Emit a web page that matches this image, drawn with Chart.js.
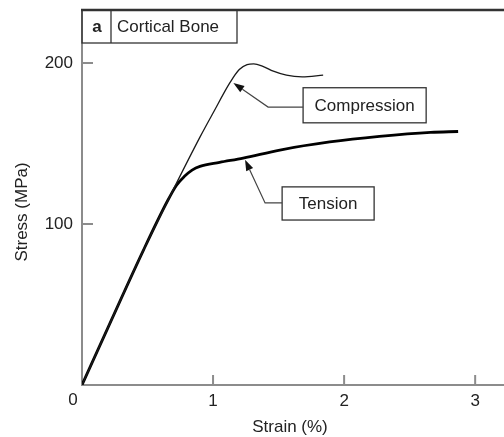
<!DOCTYPE html>
<html>
<head>
<meta charset="utf-8">
<script src="https://cdn.jsdelivr.net/npm/chart.js@4"></script>
<style>
  html, body { margin: 0; padding: 0; background: #fff; }
  #wrap { width: 504px; height: 437px; }
</style>
</head>
<body>
<div id="wrap"><canvas id="chart"></canvas></div>
<script>
// values (strain in %, stress in MPa)
const compStrain = [0, 0.2, 0.47, 0.7, 0.9, 1.0, 1.13, 1.2, 1.26, 1.31, 1.38, 1.46, 1.56, 1.68, 1.84];
const compStress = [0, 36, 84, 122, 154, 169, 188, 196, 199, 199.5, 198, 195, 192.5, 191.5, 192.5];
const tensStrain = [0, 0.2, 0.47, 0.65, 0.72, 0.78, 0.84, 0.9, 1.05, 1.23, 1.51, 1.89, 2.27, 2.66, 2.87];
const tensStress = [0, 36, 84, 114, 124, 129.5, 133.5, 135.8, 138.3, 141, 146, 151, 154.5, 157, 157.5];
const xTicks = [1, 2, 3];
const yTicks = [100, 200];
const xLabel = 'Strain (%)';
const yLabel = 'Stress (MPa)';
const panelLetter = 'a';
const panelTitle = 'Cortical Bone';

// callouts in data units: box [s0, top, s1, bottom], elbow, arrow tip
const callouts = [
  { text: 'Compression', box: [1.687, 184.7, 2.626, 162.9], elbow: [1.42, 172.7], tip: [1.155, 187.7] },
  { text: 'Tension', box: [1.527, 123.1, 2.229, 102.5], elbow: [1.397, 113.1], tip: [1.244, 140] }
];

const FONT = '"Liberation Sans", Arial, Helvetica, sans-serif';
const INK = '#222';
const AXIS = '#8c8c8c';

const toPoints = (xs, ys) => xs.map((v, i) => ({ x: v, y: ys[i] }));

const decorPlugin = {
  id: 'decor',
  afterDraw(chart) {
    const { ctx, chartArea: a, scales: { x, y } } = chart;
    ctx.save();

    // top frame line
    ctx.strokeStyle = '#333';
    ctx.lineWidth = 2.5;
    ctx.beginPath();
    ctx.moveTo(a.left - 1, a.top);
    ctx.lineTo(a.right, a.top);
    ctx.stroke();

    // inward tick marks
    ctx.strokeStyle = AXIS;
    ctx.lineWidth = 2;
    ctx.beginPath();
    xTicks.forEach(v => {
      const px = x.getPixelForValue(v);
      ctx.moveTo(px, a.bottom);
      ctx.lineTo(px, a.bottom - 10);
    });
    yTicks.forEach(v => {
      const py = y.getPixelForValue(v);
      ctx.moveTo(a.left, py);
      ctx.lineTo(a.left + 11, py);
    });
    ctx.stroke();

    ctx.fillStyle = INK;
    ctx.font = '17px ' + FONT;
    ctx.textAlign = 'center';
    ctx.textBaseline = 'middle';
    // shared origin label
    ctx.fillText('0', a.left - 9, a.bottom + 15);

    // axis titles
    ctx.fillText(xLabel, (a.left + a.right) / 2 - 3, a.bottom + 42);
    ctx.save();
    ctx.translate(22, a.top + 202);
    ctx.rotate(-Math.PI / 2);
    ctx.fillText(yLabel, 0, 0);
    ctx.restore();

    // panel title box
    ctx.strokeStyle = '#333';
    ctx.lineWidth = 1.3;
    ctx.strokeRect(a.left, a.top, 155, 33);
    ctx.beginPath();
    ctx.moveTo(a.left + 29, a.top);
    ctx.lineTo(a.left + 29, a.top + 33);
    ctx.stroke();
    ctx.font = 'bold 17px ' + FONT;
    ctx.fillText(panelLetter, a.left + 15, a.top + 17);
    ctx.font = '17px ' + FONT;
    ctx.textAlign = 'left';
    ctx.fillText(panelTitle, a.left + 35, a.top + 17);

    // callouts
    callouts.forEach(c => {
      const bx0 = x.getPixelForValue(c.box[0]);
      const by0 = y.getPixelForValue(c.box[1]);
      const bx1 = x.getPixelForValue(c.box[2]);
      const by1 = y.getPixelForValue(c.box[3]);
      const ex = x.getPixelForValue(c.elbow[0]);
      const ey = y.getPixelForValue(c.elbow[1]);
      const tx = x.getPixelForValue(c.tip[0]);
      const ty = y.getPixelForValue(c.tip[1]);

      ctx.strokeStyle = '#333';
      ctx.lineWidth = 1.3;
      ctx.strokeRect(bx0, by0, bx1 - bx0, by1 - by0);
      ctx.textAlign = 'center';
      ctx.fillStyle = INK;
      ctx.fillText(c.text, (bx0 + bx1) / 2, (by0 + by1) / 2 + 1);

      ctx.strokeStyle = '#444';
      ctx.lineWidth = 1.2;
      const ang = Math.atan2(ty - ey, tx - ex);
      const len = 11, hw = 3.8;
      const bxA = tx - len * Math.cos(ang), byA = ty - len * Math.sin(ang);
      ctx.beginPath();
      ctx.moveTo(bx0, ey);
      ctx.lineTo(ex, ey);
      ctx.lineTo(bxA, byA);
      ctx.stroke();
      ctx.fillStyle = '#111';
      ctx.beginPath();
      ctx.moveTo(tx, ty);
      ctx.lineTo(bxA + hw * Math.sin(ang), byA - hw * Math.cos(ang));
      ctx.lineTo(bxA - hw * Math.sin(ang), byA + hw * Math.cos(ang));
      ctx.closePath();
      ctx.fill();
    });

    ctx.restore();
  }
};

const ctx = document.getElementById('chart').getContext('2d');
new Chart(ctx, {
  type: 'line',
  data: {
    datasets: [
      {
        label: 'Compression',
        data: toPoints(compStrain, compStress),
        borderColor: '#1a1a1a',
        borderWidth: 1.3,
        pointRadius: 0,
        cubicInterpolationMode: 'monotone',
        fill: false
      },
      {
        label: 'Tension',
        data: toPoints(tensStrain, tensStress),
        borderColor: '#000',
        borderWidth: 2.8,
        pointRadius: 0,
        cubicInterpolationMode: 'monotone',
        fill: false
      }
    ]
  },
  options: {
    responsive: true,
    maintainAspectRatio: false,
    animation: false,
    devicePixelRatio: 1,
    layout: { padding: { top: 10, right: 0, bottom: 0, left: 0 } },
    plugins: {
      legend: { display: false },
      tooltip: { enabled: false }
    },
    scales: {
      x: {
        type: 'linear',
        min: 0,
        max: 3.22,
        afterBuildTicks: s => { s.ticks = xTicks.map(v => ({ value: v })); },
        afterFit: s => { s.height = 52; s.paddingLeft = 0; s.paddingRight = 0; },
        grid: { drawOnChartArea: false, drawTicks: false },
        border: { color: AXIS, width: 2 },
        ticks: { font: { family: FONT, size: 17 }, color: INK, padding: 6, maxRotation: 0 }
      },
      y: {
        type: 'linear',
        min: 0,
        max: 233,
        afterBuildTicks: s => { s.ticks = yTicks.map(v => ({ value: v })); },
        afterFit: s => { s.width = 82; s.paddingTop = 0; s.paddingBottom = 0; },
        grid: { drawOnChartArea: false, drawTicks: false },
        border: { color: AXIS, width: 2 },
        ticks: { font: { family: FONT, size: 17 }, color: INK, padding: 9 }
      }
    }
  },
  plugins: [decorPlugin]
});
</script>
</body>
</html>
